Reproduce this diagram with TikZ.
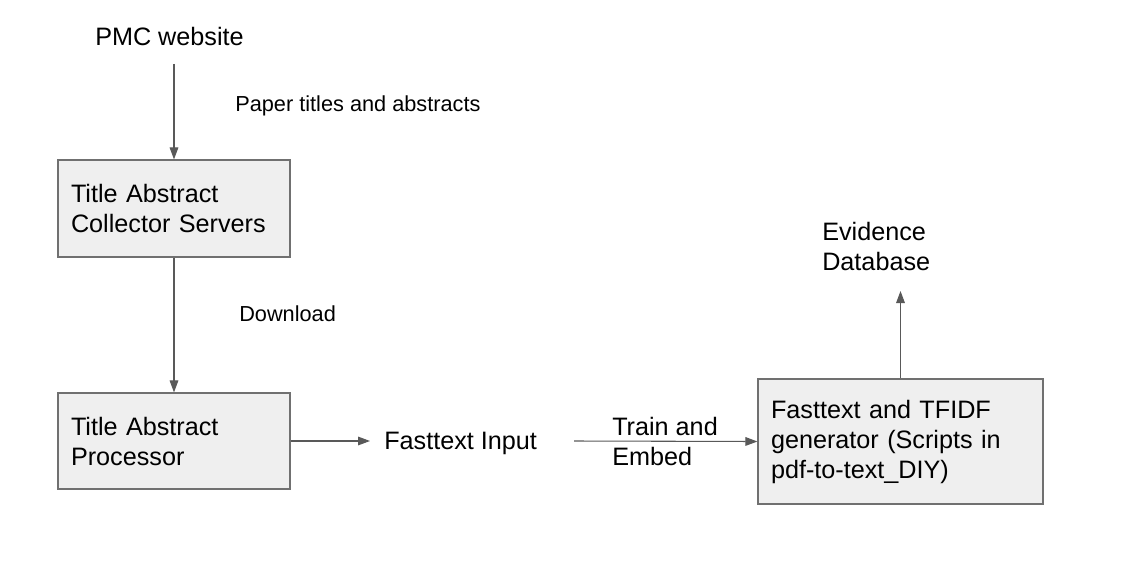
\documentclass[tikz,border=0pt]{standalone}
\usepackage{fontspec}
\setmainfont{Liberation Sans}
\usetikzlibrary{arrows.meta}
\definecolor{boxfill}{HTML}{EFEFEF}
\definecolor{boxline}{HTML}{707070}
\definecolor{arrline}{HTML}{595959}
\begin{document}
\begin{tikzpicture}[x=0.75pt,y=-0.75pt,
  big/.style={font=\fontsize{18.9}{22.5}\selectfont,inner sep=0pt,anchor=west,align=left},
  small/.style={font=\fontsize{16.3}{20}\selectfont,inner sep=0pt,anchor=west},
  procbox/.style={draw=boxline,line width=0.9pt,fill=boxfill,font=\fontsize{18.9}{22.5}\selectfont,
    align=left,inner xsep=9.75pt,inner ysep=0pt},
  arr/.style={draw=arrline,line width=0.8pt,-{Triangle[length=9pt,width=6.5pt]}}]
\useasboundingbox (0,0) rectangle (1137,585);
% nodes
\node[big] (pmc) at (95,36) {PMC website};
\node[small] (lbl1) at (235,105.5) {Paper titles and abstracts};
\node[procbox,minimum width=174pt,minimum height=72.75pt,text width=154.5pt] (tac) at (174,208.5) {Title Abstract\\Collector Servers};
\node[small] (lbl2) at (239,314) {Download};
\node[procbox,minimum width=174pt,minimum height=72pt,text width=154.5pt] (tap) at (174,441) {Title Abstract\\Processor};
\node[big,inner xsep=10.5pt] (fi) at (370,443) {Fasttext Input};
\node[big] (te) at (612,441.5) {Train and\\Embed};
\node[procbox,minimum width=213.75pt,minimum height=93.75pt,text width=194.25pt] (gen) at (900.5,441.5) {Fasttext and TFIDF\\generator (Scripts in\\pdf-to-text\_DIY)};
\node[big] (evd) at (822,246.5) {Evidence\\Database};
\coordinate (pmcout) at (174,64);
\coordinate (fiout) at (574,441);
\coordinate (evin) at (900.5,291);
% connectors
\draw[arr] (pmcout) -- (tac.north);
\draw[arr] (tac.south) -- (tap.north);
\draw[arr] (tap.east) -- (tap.east -| fi.west);
\draw[arr] (fiout) -- (gen.west);
\draw[arr] (gen.north) -- (evin);
\end{tikzpicture}
\end{document}
